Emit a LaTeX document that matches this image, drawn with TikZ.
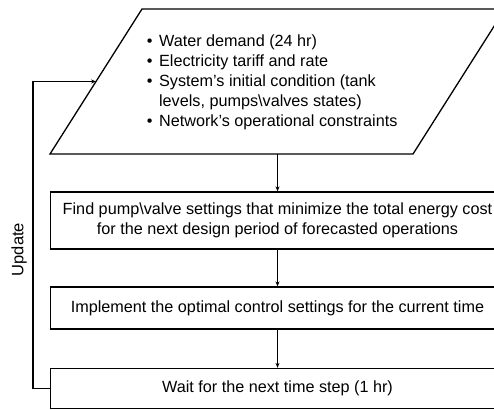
\documentclass[tikz,border=0pt]{standalone}
\usepackage{fontspec}
\setmainfont{Liberation Sans}
\usetikzlibrary{arrows.meta}

\begin{document}
\begin{tikzpicture}[x=1pt, y=-1pt, >={Stealth[length=5pt,width=4pt]},
    line width=1.3pt,
    stepbox/.style={draw, minimum width=454pt, inner sep=0pt, align=center,
      font=\fontsize{16.2}{20}\selectfont},
    flow/.style={->, line width=1.1pt}]
  \useasboundingbox (0,0) rectangle (494,409);
  \clip (0,0) rectangle (494,409);

  % Input parallelogram
  \coordinate (tl) at (142,9);
  \coordinate (tr) at (505,9);
  \coordinate (br) at (413,154);
  \coordinate (bl) at (50,154);
  \coordinate (inleft) at (96,81.5);
  \coordinate (inbot) at (277.5,154);
  \draw (tl) -- (tr) -- (br) -- (bl) -- cycle;
  \node[align=left, font=\fontsize{16.2}{20}\selectfont, anchor=west] (inputs) at (143,82)
    {\textbullet\hspace{0.4em}Water demand (24 hr)\\
     \textbullet\hspace{0.4em}Electricity tariff and rate\\
     \textbullet\hspace{0.4em}System’s initial condition (tank\\
     \phantom{\textbullet}\hspace{0.4em}levels, pumps\textbackslash valves states)\\
     \textbullet\hspace{0.4em}Network’s operational constraints};

  % Steps
  \node[stepbox, minimum height=57pt] (optim) at (277.5,220.5)
    {Find pump\textbackslash valve settings that minimize the total energy cost\\
     for the next design period of forecasted operations};
  \node[stepbox, minimum height=42pt] (apply) at (277.5,308)
    {Implement the optimal control settings for the current time};
  \node[stepbox, minimum height=40pt] (wait) at (277.5,388.5)
    {Wait for the next time step (1 hr)};

  \draw[flow] (inbot) -- (optim.north);
  \draw[flow] (optim) -- (apply);
  \draw[flow] (apply) -- (wait);

  % Feedback loop
  \draw[flow] (wait.west) -| (33,81.5) -- (inleft);
  \node[rotate=90, font=\fontsize{16.5}{18}\selectfont] (upd) at (19,249.5) {Update};
\end{tikzpicture}
\end{document}
